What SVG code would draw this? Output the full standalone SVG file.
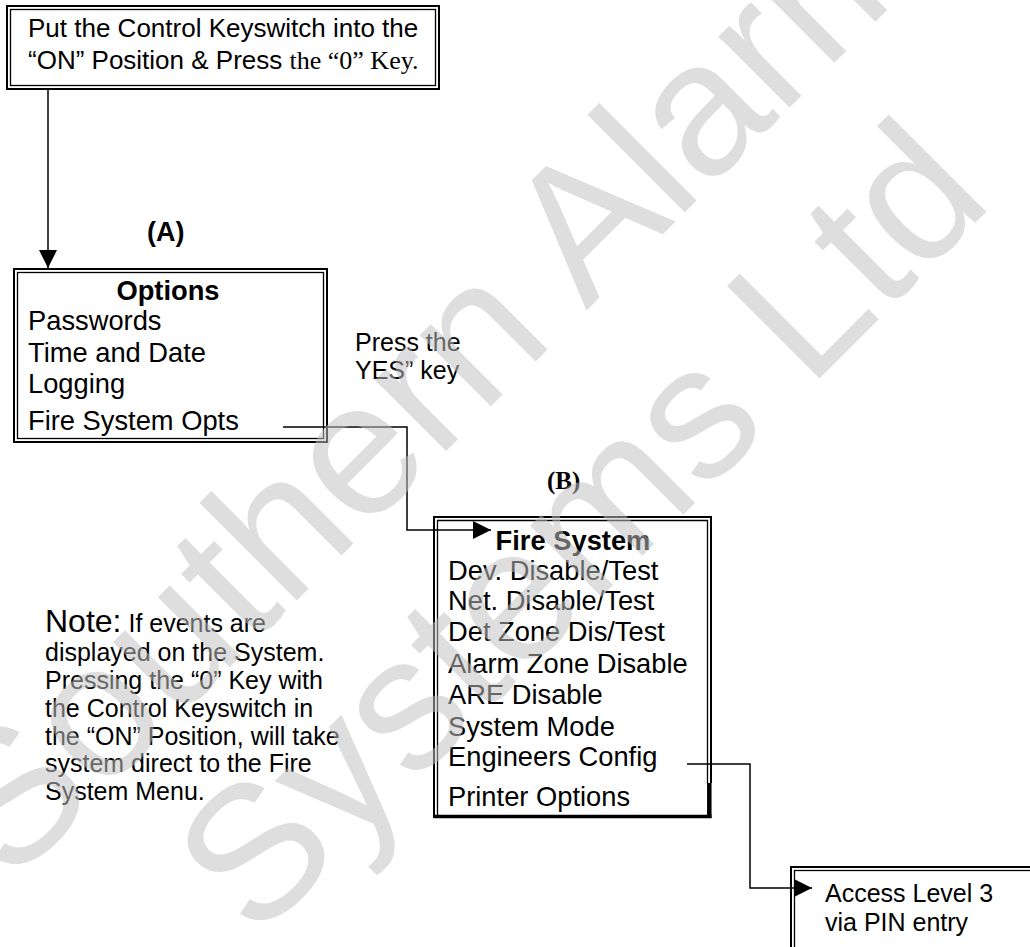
<svg xmlns="http://www.w3.org/2000/svg" width="1030" height="947" viewBox="0 0 1030 947">
<style>
  .sans { font-family: "Liberation Sans", Arial, sans-serif; fill: #000; }
  .serif { font-family: "Liberation Serif", "Times New Roman", serif; fill: #000; }
  .item { font-size: 27.3px; }
  .title { font-size: 27.3px; font-weight: bold; }
  .outer { fill: none; stroke: #000; stroke-width: 2; }
  .inner { fill: none; stroke: #000; stroke-width: 1.3; }
  .conn { fill: none; stroke: #000; stroke-width: 1.5; }
  .note { font-size: 25px; }
  .wm { font-family: "Liberation Sans", Arial, sans-serif; font-size: 190px; fill: #c0c0c0; fill-opacity: 0.53; }
</style>
<defs>
  <marker id="arrow" markerUnits="userSpaceOnUse" markerWidth="18" markerHeight="18" viewBox="0 0 18 18" refX="18" refY="9" orient="auto">
    <path d="M0,0 L18,9 L0,18 Z" fill="#000"/>
  </marker>
</defs>
<rect width="1030" height="947" fill="#fff"/>

<g id="start">
  <rect class="outer" x="7" y="6" width="432" height="83"/>
  <rect class="inner" x="10.5" y="9.5" width="425" height="76"/>
  <text class="sans" x="28" y="37" font-size="26">Put the Control Keyswitch into the</text>
  <text class="sans" x="28" y="69" font-size="26">“ON” Position &amp; Press <tspan class="serif">the “0” Key.</tspan></text>
</g>

<g id="label-a">
  <text class="sans" x="147" y="241" font-size="27" font-weight="bold">(A)</text>
</g>

<g id="options">
  <rect class="outer" x="14" y="269" width="313" height="173"/>
  <rect class="inner" x="17.5" y="272.5" width="306" height="166"/>
  <text class="sans title" x="168" y="300" text-anchor="middle">Options</text>
  <text class="sans item" x="28" y="330">Passwords</text>
  <text class="sans item" x="28" y="362">Time and Date</text>
  <text class="sans item" x="28" y="393">Logging</text>
  <text class="sans item" x="28" y="430">Fire System Opts</text>
</g>

<g id="press-yes">
  <text class="sans" x="355" y="351" font-size="25">Press the</text>
  <text class="sans" x="355" y="379" font-size="25">YES” key</text>
</g>

<g id="label-b">
  <text class="serif" x="547" y="489" font-size="25" font-weight="bold">(B)</text>
</g>

<g id="fire-system">
  <path class="outer" d="M711,783 L711,517 L434,517 L434,818"/>
  <path class="inner" d="M707.5,783 L707.5,520.5 L437.5,520.5 L437.5,815"/>
  <path d="M434,816.5 L711.5,816.5" stroke="#000" stroke-width="3.5" fill="none"/>
  <path d="M709.3,783 L709.3,818" stroke="#000" stroke-width="4.5" fill="none"/>
  <text class="sans title" x="573" y="550" text-anchor="middle">Fire System</text>
  <text class="sans item" x="448" y="580">Dev. Disable/Test</text>
  <text class="sans item" x="448" y="610">Net. Disable/Test</text>
  <text class="sans item" x="448" y="641">Det Zone Dis/Test</text>
  <text class="sans item" x="448" y="673">Alarm Zone Disable</text>
  <text class="sans item" x="448" y="704">ARE Disable</text>
  <text class="sans item" x="448" y="736">System Mode</text>
  <text class="sans item" x="448" y="766">Engineers Config</text>
  <text class="sans item" x="448" y="806">Printer Options</text>
</g>

<g id="note">
  <text class="sans note" x="45" y="632"><tspan font-size="32">Note:</tspan> If events are</text>
  <text class="sans note" x="45" y="661">displayed on the System.</text>
  <text class="sans note" x="45" y="689">Pressing the “0” Key with</text>
  <text class="sans note" x="45" y="717">the Control Keyswitch in</text>
  <text class="sans note" x="45" y="745">the “ON” Position, will take</text>
  <text class="sans note" x="45" y="772">system direct to the Fire</text>
  <text class="sans note" x="45" y="800">System Menu.</text>
</g>

<g id="access">
  <rect class="outer" x="791" y="867" width="260" height="100"/>
  <rect class="inner" x="794.5" y="870.5" width="253" height="93"/>
  <text class="sans" x="825" y="902" font-size="25">Access Level 3</text>
  <text class="sans" x="825" y="931" font-size="25">via PIN entry</text>
</g>

<g id="connectors">
  <path class="conn" d="M48,89 L48,268" marker-end="url(#arrow)"/>
  <path class="conn" d="M283,427 L407,427 L407,530 L491,530" marker-end="url(#arrow)"/>
  <path class="conn" d="M687,764 L750,764 L750,888 L812,888" marker-end="url(#arrow)"/>
</g>

<g id="watermark">
  <text class="wm" x="11" y="886" transform="rotate(-45 11 886)">Southern Alarm</text>
  <text class="wm" x="256" y="942" transform="rotate(-45 256 942)">Systems Ltd</text>
</g>
</svg>
